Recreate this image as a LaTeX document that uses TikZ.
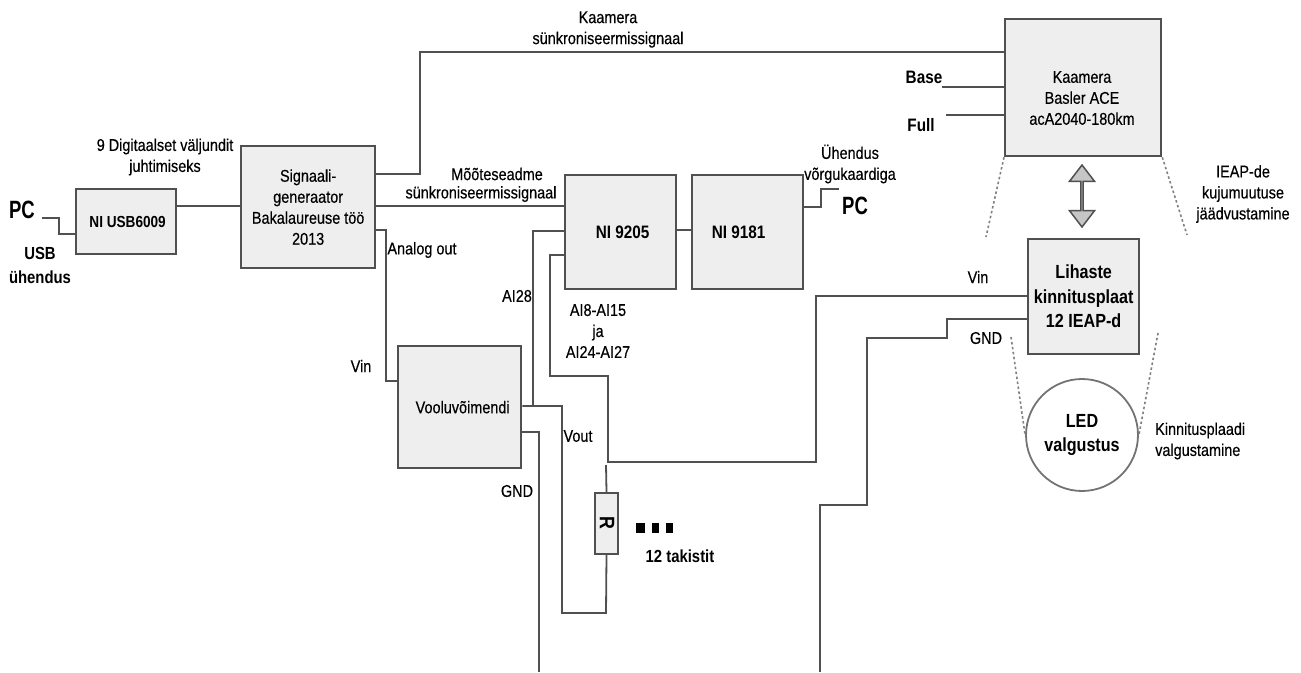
\documentclass[tikz,border=0pt]{standalone}
\usepackage{fontspec}
\setmainfont[FakeStretch=0.85, FakeBold=0.35, BoldFeatures={FakeBold=0}]{Liberation Sans}
\newfontfamily\pcfont[FakeStretch=0.74]{Liberation Sans Bold}
\usetikzlibrary{arrows.meta,shapes.arrows}
\definecolor{wiregray}{HTML}{505050}
\definecolor{boxgray}{HTML}{EEEEEE}
\tikzset{
  blockbox/.style={draw=wiregray, fill=boxgray, line width=2.3pt, inner sep=0pt, align=center, anchor=north west},
  wire/.style={draw=wiregray, line width=2.3pt},
  thinwire/.style={draw=wiregray, line width=1.8pt},
  dotline/.style={draw=gray, line width=1.6pt, dash pattern=on 2.5pt off 2.5pt},
  lbl/.style={font=\fontsize{17}{21}\selectfont, align=center, inner sep=0pt},
  lblb/.style={font=\fontsize{17.5}{24}\selectfont\bfseries, align=center, inner sep=0pt},
  bigb/.style={font=\fontsize{18}{24}\selectfont\bfseries, align=center, inner sep=0pt},
  bigr/.style={font=\fontsize{19}{24.5}\selectfont\bfseries, align=center, inner sep=0pt},
  pclbl/.style={font=\fontsize{25}{28}\selectfont\pcfont, inner sep=0pt},
}
\begin{document}
\begin{tikzpicture}[x=1pt, y=-1pt]
  \useasboundingbox (0,0) rectangle (1301,672);

  % left: usb box and generator
  \node[blockbox, minimum width=100pt, minimum height=65pt, font=\fontsize{16}{20}\selectfont\bfseries] (usb) at (75,188) {\kern3ptNI USB6009};
  \node[blockbox, minimum width=134pt, minimum height=122pt, lbl] (gen) at (240,145) {Signaali-\\generaator\\Bakalaureuse töö\\2013};
  \node[pclbl] (pcleft) at (22,210) {PC};
  \node[lblb] (usbtxt) at (40,265) {USB\\ühendus};
  \node[lbl] (digtxt) at (165,157) {9 Digitaalset väljundit\\juhtimiseks};
  \coordinate (pcleftend) at (42,218);
  \draw[wire] (pcleftend) -- (59,218) -- (59,234) -- (usb.west |- 0,234);
  \draw[wire] (usb.east |- 0,206) -- (gen.west |- 0,206);

  % middle: measuring boxes
  \node[blockbox, minimum width=111pt, minimum height=114pt, bigb] (nia) at (564,174) {\kern4ptNI 9205};
  \node[blockbox, minimum width=111pt, minimum height=114pt, bigb] (nib) at (691,174) {NI 9181\kern18pt};
  \node[blockbox, minimum width=123pt, minimum height=122pt, lbl] (amp) at (397,345) {\kern6ptVooluvõimendi};
  \node[blockbox, minimum width=23pt, minimum height=61pt, line width=2pt] (res) at (594,492) {};
  \node[font=\fontsize{21}{24}\selectfont\bfseries, inner sep=0pt, rotate=-90] (restxt) at (607,523) {R};
  \node[pclbl] (pcright) at (855,206) {PC};
  \coordinate (pcrightend) at (839,189);
  \draw[wire] (gen.east |- 0,206) -- (nia.west |- 0,206);
  \draw[wire] (nia.east |- 0,230) -- (nib.west |- 0,230);
  \draw[wire] (nib.east |- 0,207) -- (821,207) -- (821,189) -- (pcrightend);

  % right: camera, plate, light
  \node[blockbox, minimum width=156pt, minimum height=137pt] (cam) at (1004,18) {};
  \node[lbl] (camtxt) at (1082,98) {Kaamera\\Basler ACE\\acA2040-180km};
  \node[blockbox, minimum width=111pt, minimum height=115pt, bigr] (plate) at (1027,238) {Lihaste\\kinnitusplaat\\12 IEAP-d};
  \node[draw=wiregray!80, line width=1.8pt, circle, minimum size=112pt, bigr] (led) at (1082,435) {LED\\valgustus};
  \node[lblb, font=\fontsize{18}{24}\selectfont\bfseries] (basetxt) at (924,77) {Base};
  \node[lblb, font=\fontsize{18}{24}\selectfont\bfseries] (fulltxt) at (921,125) {Full};
  \coordinate (baseend) at (942,87);
  \coordinate (fullend) at (946,115);
  \draw[wire] (baseend) -- (cam.west |- 0,87);
  \draw[wire] (fullend) -- (cam.west |- 0,115);
  \draw[wire] (gen.east |- 0,174) -- (420,174) -- (420,52) -- (cam.west |- 0,52);
  \node[draw=wiregray, fill=gray!45, line width=1.5pt, double arrow, double arrow head extend=7pt, double arrow tip angle=75,
    minimum width=25pt, minimum height=62pt, inner sep=0pt, rotate=90] (camarrow) at (1082,196) {};
  \coordinate (camdotl) at (986,237);
  \coordinate (camdotr) at (1187,235);
  \coordinate (leddotl) at (1011,337);
  \coordinate (leddotr) at (1158,333);
  \draw[dotline] (cam.south west) -- (camdotl);
  \draw[dotline] (cam.south east) -- (camdotr);
  \draw[dotline] (leddotl) -- (led.west);
  \draw[dotline] (leddotr) -- (led.east);

  % wires between the blocks
  \draw[wire] (gen.east |- 0,230) -- (386,230) -- (386,381) -- (amp.west |- 0,381);
  \draw[wire] (nia.west |- 0,231) -- (533,231) -- (533,406);
  \draw[thinwire] (amp.east |- 0,406) -- (562,406) -- (562,613) -- (606,613) -- (res.south);
  \draw[wire] (amp.east |- 0,432) -- (539,432) -- (539,672);
  \draw[thinwire] (res.north) -- (606,465);
  \draw[thinwire] (nia.west |- 0,255) -- (550,255) -- (550,376) -- (608,376) -- (608,462)
    -- (816,462) -- (816,296) -- (plate.west |- 0,296);
  \draw[wire] (plate.west |- 0,319) -- (947,319) -- (947,338) -- (867,338) -- (867,505) -- (820,505) -- (820,672);

  % dots for the other resistors
  \fill (636,523) rectangle (645,533);
  \fill (652,523) rectangle (659,533);
  \fill (666,523) rectangle (673,533);

  % labels
  \node[lbl] (camsync) at (608,29.5) {Kaamera\\sünkroniseermissignaal};
  \node[lbl] (meassynca) at (497,174) {Mõõteseadme};
  \node[lbl] (meassyncb) at (481,194) {sünkroniseermissignaal};
  \node[lbl] (analogtxt) at (422,250) {Analog out};
  \node[lbl] (vinamp) at (361,366) {Vin};
  \node[lbl] (aitxt) at (517,296) {AI28};
  \node[lbl] (aimany) at (598,331) {AI8-AI15\\ja\\AI24-AI27};
  \node[lbl] (vouttxt) at (578,436) {Vout};
  \node[lbl] (gndamp) at (517,491) {GND};
  \node[lblb] (restakistit) at (680,556) {12 takistit};
  \node[lbl] (nettxt) at (850,164) {Ühendus\\võrgukaardiga};
  \node[lbl] (vinplate) at (978,277) {Vin};
  \node[lbl] (gndplate) at (986,338) {GND};
  \node[lbl] (ieaptxt) at (1243,194) {IEAP-de\\kujumuutuse\\jäädvustamine};
  \node[lbl, align=left, anchor=west] (lighttxt) at (1155,441) {Kinnitusplaadi\\valgustamine};
\end{tikzpicture}
\end{document}
